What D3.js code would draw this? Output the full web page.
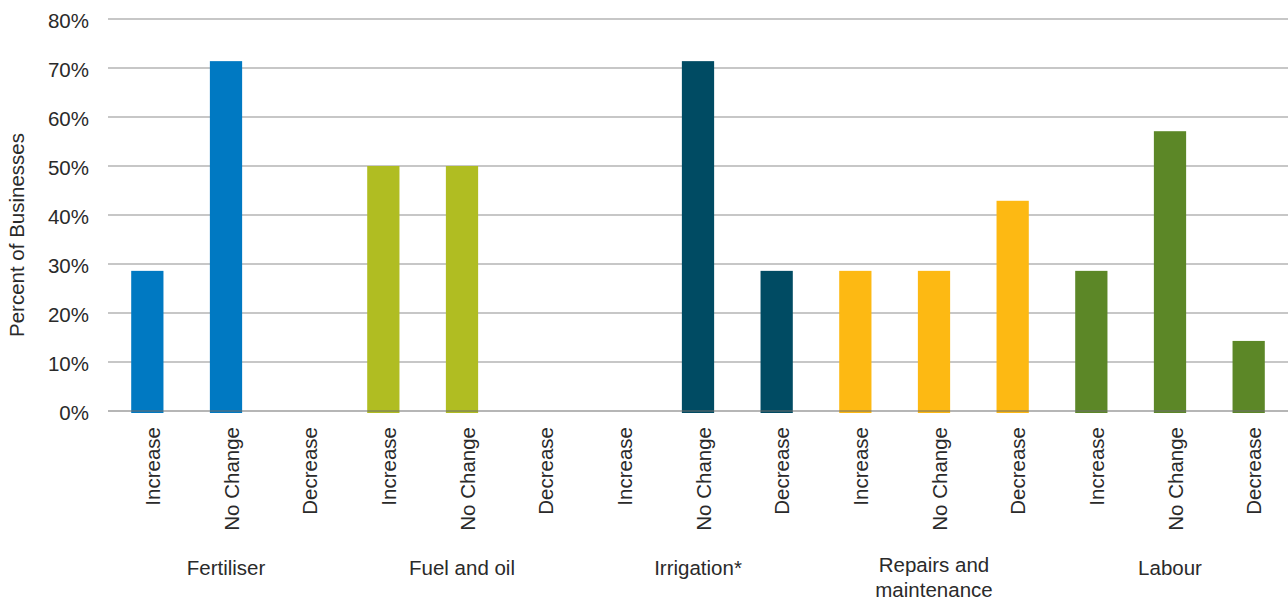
<!DOCTYPE html>
<html>
<head>
<meta charset="utf-8">
<script src="https://cdn.jsdelivr.net/npm/d3@7"></script>
<style>
  html, body { margin: 0; padding: 0; background: #fff; }
  svg { display: block; font-family: "Liberation Sans", Arial, sans-serif; }
</style>
</head>
<body>
<svg id="chart" width="1288" height="601"></svg>
<script>
// Cost groups and the change categories within each
const groups = ["Fertiliser", "Fuel and oil", "Irrigation*", "Repairs and maintenance", "Labour"];
const changes = ["Increase", "No Change", "Decrease"];

// Percent of businesses per group (Increase, No Change, Decrease)
const fertiliser = [28.6, 71.4, 0];
const fuelAndOil = [50.0, 50.0, 0];
const irrigation = [0, 71.4, 28.6];
const repairs = [28.6, 28.6, 42.9];
const labour = [28.6, 57.1, 14.3];

const groupColors = ["#0079c2", "#b0bd22", "#004b63", "#fdb913", "#5c8727"];
const yTicks = [0, 10, 20, 30, 40, 50, 60, 70, 80];

const seriesValues = [fertiliser, fuelAndOil, irrigation, repairs, labour];
const rows = [];
groups.forEach((g, gi) => {
  changes.forEach((c, ci) => {
    rows.push({ key: g + "|" + c, group: g, gi, change: c, value: seriesValues[gi][ci] });
  });
});

const svg = d3.select("#chart");
const margin = { left: 108, right: 0, top: 19, bottom: 190 };
const width = 1288, height = 601;
const textColor = "#2a2a2a";

const x = d3.scaleBand()
  .domain(rows.map(d => d.key))
  .range([margin.left, width - margin.right])
  .paddingInner(0.59)
  .paddingOuter(0.295);

const y = d3.scaleLinear()
  .domain([0, 80])
  .range([height - margin.bottom, margin.top]);

// Gridlines
svg.append("g")
  .selectAll("line")
  .data(yTicks.filter(t => t > 0))
  .join("line")
  .attr("x1", margin.left)
  .attr("x2", width - margin.right)
  .attr("y1", d => y(d))
  .attr("y2", d => y(d))
  .attr("stroke", "#8f8f8f")
  .attr("stroke-width", 1.2);

// Bars
svg.append("g")
  .selectAll("rect")
  .data(rows.filter(d => d.value > 0))
  .join("rect")
  .attr("x", d => x(d.key))
  .attr("width", x.bandwidth())
  .attr("y", d => y(d.value))
  .attr("height", d => y(0) - y(d.value) + 2)
  .attr("fill", d => groupColors[d.gi]);

// Baseline
svg.append("line")
  .attr("x1", margin.left)
  .attr("x2", width - margin.right)
  .attr("y1", y(0))
  .attr("y2", y(0))
  .attr("stroke", "#6e6e6e")
  .attr("stroke-width", 1.2);

// Y axis labels
const yAxis = d3.axisLeft(y)
  .tickValues(yTicks)
  .tickFormat(d => d + "%")
  .tickSize(0)
  .tickPadding(19);
const yg = svg.append("g")
  .attr("transform", `translate(${margin.left},0)`)
  .call(yAxis);
yg.select(".domain").remove();
yg.selectAll("text")
  .attr("dy", "0.4em")
  .attr("font-size", 20.5)
  .attr("fill", textColor)
  .attr("font-family", "Liberation Sans, Arial, sans-serif");

// Y axis title
svg.append("text")
  .attr("transform", `translate(24,${(y(0) + y(80)) / 2 + 20}) rotate(-90)`)
  .attr("text-anchor", "middle")
  .attr("font-size", 20.5)
  .attr("fill", textColor)
  .text("Percent of Businesses");

// Category labels (rotated)
const xAxis = d3.axisBottom(x)
  .tickSize(0)
  .tickFormat(k => k.split("|")[1]);
const xg = svg.append("g")
  .attr("transform", `translate(0,${y(0)})`)
  .call(xAxis);
xg.select(".domain").remove();
xg.selectAll("text")
  .attr("transform", "rotate(-90)")
  .attr("text-anchor", "end")
  .attr("x", -16)
  .attr("y", 0)
  .attr("dy", "0.62em")
  .attr("font-size", 20.5)
  .attr("fill", textColor)
  .attr("font-family", "Liberation Sans, Arial, sans-serif");

// Group labels, centred under each group of bars
const groupLabels = {
  "Repairs and maintenance": ["Repairs and", "maintenance"]
};
groups.forEach((g, gi) => {
  const keys = changes.map(c => g + "|" + c);
  const cx = (x(keys[0]) + x(keys[2]) + x.bandwidth()) / 2;
  const lines = groupLabels[g] || [g];
  const baseY = lines.length > 1 ? 572 : 575;
  const t = svg.append("text")
    .attr("text-anchor", "middle")
    .attr("font-size", 20.5)
    .attr("fill", textColor);
  lines.forEach((ln, i) => {
    t.append("tspan")
      .attr("x", cx)
      .attr("y", baseY + i * 25)
      .text(ln);
  });
});
</script>
</body>
</html>
